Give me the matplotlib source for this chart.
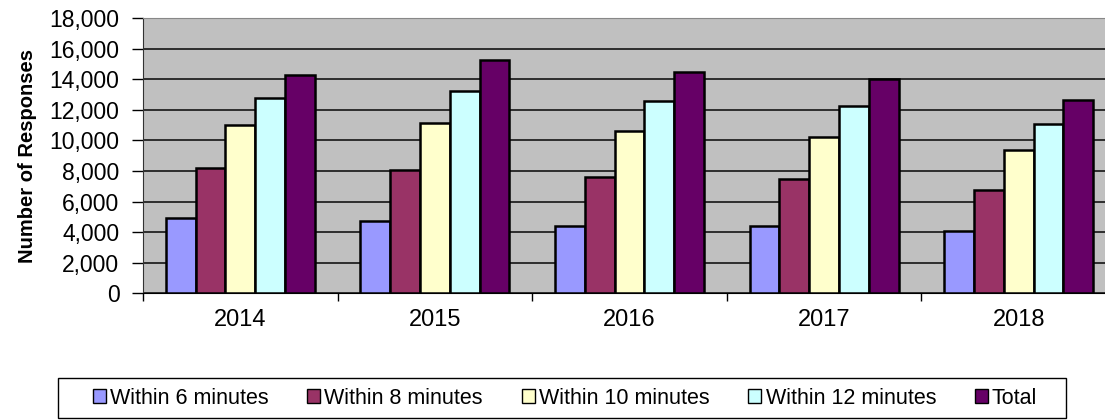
import matplotlib
matplotlib.use("Agg")
import matplotlib.pyplot as plt
from matplotlib.patches import Rectangle
import numpy as np

years = ["2014", "2015", "2016", "2017", "2018"]
series_names = ["Within 6 minutes", "Within 8 minutes", "Within 10 minutes",
                "Within 12 minutes", "Total"]
within_6 = [4950, 4700, 4400, 4400, 4100]
within_8 = [8200, 8050, 7600, 7500, 6750]
within_10 = [11000, 11150, 10600, 10250, 9400]
within_12 = [12750, 13200, 12550, 12250, 11050]
total = [14250, 15250, 14450, 14000, 12650]
yticks = [0, 2000, 4000, 6000, 8000, 10000, 12000, 14000, 16000, 18000]

colors = ["#9999FF", "#993366", "#FFFFCC", "#CCFFFF", "#660066"]

plt.rcParams["font.family"] = ["Liberation Sans", "DejaVu Sans"]

fig = plt.figure(figsize=(11.05, 4.20), dpi=100)
ax = fig.add_axes([143 / 1105, 1 - 293.3 / 420, 973 / 1105, (293.3 - 18) / 420])
ax.set_facecolor("#C0C0C0")

x = np.arange(len(years))
w = 0.153
data = [within_6, within_8, within_10, within_12, total]
for i, (vals, name, c) in enumerate(zip(data, series_names, colors)):
    ax.bar(x + (i - 2) * w, vals, width=w, color=c, edgecolor="black",
           linewidth=1.8, label=name, zorder=3)

ax.set_xlim(-0.5, len(years) - 0.5)
ax.set_ylim(0, 18000)
ax.set_yticks(yticks)
ax.set_yticklabels([f"{v:,}" for v in yticks], fontsize=16.5)
ax.yaxis.grid(True, color="#222222", linewidth=1.3, zorder=0)
ax.set_axisbelow(True)

ax.set_xticks(x)
ax.set_xticklabels(years, fontsize=17)
ax.set_xticks(np.arange(len(years) + 1) - 0.5, minor=True)
ax.tick_params(axis="x", which="major", length=0, pad=11)
ax.tick_params(axis="x", which="minor", length=6, width=1, direction="out")
ax.tick_params(axis="y", length=8, width=1, direction="out", pad=9)

ax.set_ylabel("Number of Responses", fontsize=14.5, fontweight="bold", labelpad=9)

ax.spines["top"].set_color("#888888")
ax.spines["right"].set_visible(False)
ax.spines["left"].set_color("#333333")
ax.spines["bottom"].set_color("black")

# legend box drawn separately so its padding matches the original
fig.patches.append(Rectangle((58 / 1105, 1 - 418 / 420), 1008 / 1105, 40 / 420,
                             transform=fig.transFigure, facecolor="white",
                             edgecolor="black", linewidth=1.0))
leg = fig.legend(loc="center", bbox_to_anchor=(565 / 1105, 1 - 398 / 420), ncol=5,
                 fontsize=15.5, frameon=False,
                 handlelength=0.6, handleheight=0.6, handletextpad=0.2,
                 columnspacing=1.8, borderpad=0.5, borderaxespad=0)
for h in leg.legend_handles:
    h.set_linewidth(1.0)

fig.savefig("out.png", dpi=100)
